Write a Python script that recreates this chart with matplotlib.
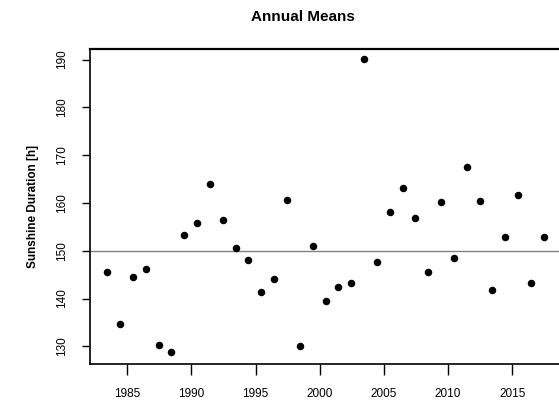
import matplotlib
matplotlib.use("Agg")
import matplotlib.pyplot as plt
import numpy as np

years = np.arange(1983, 2018)
# annual mean sunshine duration (h)
sunshine = [145.5, 134.7, 144.4, 146.2, 130.3, 128.8, 153.2, 155.8, 163.9, 156.5,
            150.6, 148.1, 141.4, 144.0, 160.6, 130.0, 151.0, 139.5, 142.5, 143.2,
            190.1, 147.7, 158.0, 163.2, 156.9, 145.5, 160.2, 148.4, 167.6, 160.5,
            141.8, 152.9, 161.7, 143.2, 152.9]
ref_level = 150
yticks = [130, 140, 150, 160, 170, 180, 190]
xticks = [1985, 1990, 1995, 2000, 2005, 2010, 2015]

plt.rcParams['font.family'] = ['Liberation Sans', 'DejaVu Sans']

fig = plt.figure(figsize=(5.59, 4.0), dpi=100)
ax = fig.add_axes([90 / 559, 36 / 400, 471 / 559, 315 / 400])

# points sit at mid-year
ax.plot(years + 0.45, sunshine, 'o', color='black', markersize=4.4, zorder=3)
ax.axhline(ref_level, color='#808080', lw=1.0, zorder=2)

ax.set_xlim(1982.1, 2018.8)
ax.set_ylim(126.3, 192.2)
ax.set_xticks(xticks)
ax.set_yticks(yticks)
ax.set_yticklabels([str(v) for v in yticks], rotation=90, va='center')

ax.tick_params(axis='x', direction='out', length=8, width=1, pad=9, labelsize=8.5, color='black')
ax.tick_params(axis='y', direction='out', length=6, width=1, pad=10, labelsize=8.5, color='black')
for s in ax.spines.values():
    s.set_linewidth(1.2)
    s.set_color('black')
ax.spines['top'].set_linewidth(1.6)
ax.spines['right'].set_visible(False)

ax.set_ylabel('Sunshine Duration [h]', fontsize=8.5, fontweight='bold', labelpad=12)
fig.text(303 / 559, 1 - 17 / 400, 'Annual Means', ha='center', va='center',
         fontsize=11, fontweight='bold')

fig.savefig('out.png', dpi=100)
